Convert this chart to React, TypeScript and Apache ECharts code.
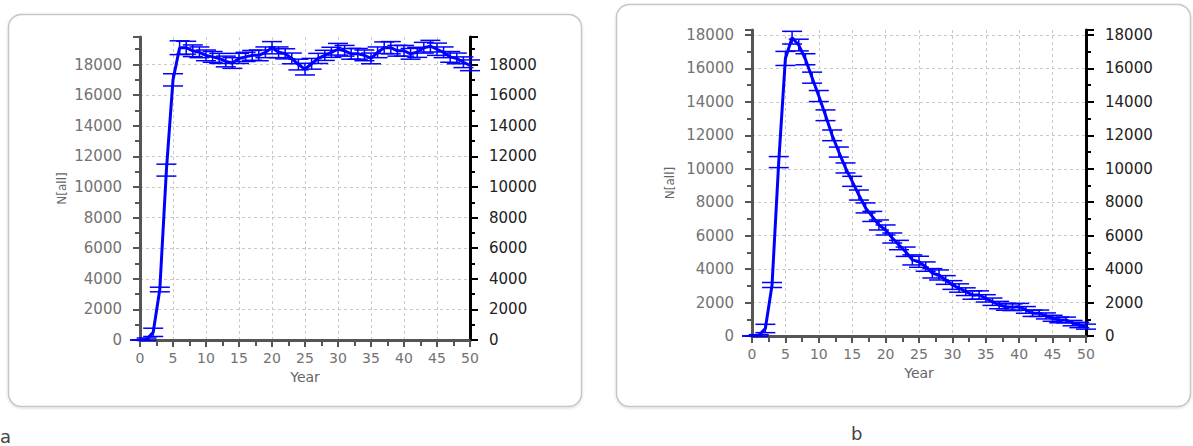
import React, { useEffect, useRef } from "react";
import * as echarts from "echarts";

const years = [0, 1, 2, 3, 4, 5, 6, 7, 8, 9, 10, 11, 12, 13, 14, 15, 16, 17, 18, 19, 20, 21, 22, 23, 24, 25, 26, 27, 28, 29, 30, 31, 32, 33, 34, 35, 36, 37, 38, 39, 40, 41, 42, 43, 44, 45, 46, 47, 48, 49, 50];

const popA = [0, 50, 500, 3300, 11100, 17000, 19100, 19100, 18900, 18800, 18600, 18500, 18400, 18200, 18100, 18400, 18500, 18600, 18600, 18800, 19100, 18800, 18700, 18400, 18000, 17700, 18050, 18400, 18600, 18800, 19000, 18900, 18700, 18700, 18600, 18400, 18800, 19100, 19100, 18900, 18900, 18700, 18800, 19100, 19200, 19000, 18800, 18500, 18400, 18150, 17950];
const errA = [0, 80, 270, 150, 390, 400, 450, 420, 380, 350, 350, 350, 330, 350, 350, 330, 300, 320, 350, 350, 400, 350, 330, 350, 350, 380, 350, 330, 330, 330, 380, 350, 350, 350, 350, 350, 350, 380, 400, 350, 350, 350, 330, 350, 380, 400, 350, 350, 350, 350, 350];

const popB = [0, 30, 450, 3050, 10400, 16600, 17840, 17400, 16550, 15450, 14350, 13200, 12000, 11000, 10050, 9250, 8430, 7660, 7150, 6640, 6340, 5860, 5440, 5040, 4550, 4440, 4150, 3750, 3650, 3350, 3050, 2870, 2650, 2450, 2450, 2250, 2050, 1850, 1750, 1720, 1750, 1560, 1360, 1360, 1200, 1060, 960, 960, 770, 660, 560];
const errB = [0, 50, 250, 150, 330, 420, 380, 350, 330, 330, 330, 320, 320, 300, 300, 300, 300, 300, 300, 300, 300, 300, 280, 280, 300, 330, 280, 280, 300, 260, 260, 250, 230, 250, 250, 220, 220, 220, 210, 200, 200, 200, 190, 190, 180, 180, 170, 170, 160, 160, 150];

const yMaxA = 19800;
const yMaxB = 18300;
const yInterval = 2000;
const xInterval = 5;
const panelLabels = ["a", "b"];
const yName = "N[all]";
const xName = "Year";

const FONT = "DejaVu Sans";
const BLUE = "#0000ff";

const plain = (v: number) => String(v);

const renderErr = (params: any, api: any) => {
  const x = api.value(0);
  const lo = api.coord([x, api.value(1)]);
  const hi = api.coord([x, api.value(2)]);
  const style = { stroke: BLUE, lineWidth: 1.5, fill: "none" };
  const hw = 10;
  return {
    type: "group",
    children: [
      { type: "line", shape: { x1: lo[0], y1: lo[1], x2: hi[0], y2: hi[1] }, style },
      { type: "line", shape: { x1: lo[0] - hw, y1: lo[1], x2: lo[0] + hw, y2: lo[1] }, style },
      { type: "line", shape: { x1: hi[0] - hw, y1: hi[1], x2: hi[0] + hw, y2: hi[1] }, style },
    ],
  };
};

const gridLine = { show: true, showMaxLine: false, lineStyle: { color: "#c9c9c9", type: [3, 3], width: 1 } };

const makeX = (gridIndex: number) => ({
  type: "value",
  gridIndex,
  min: 0,
  max: 50,
  interval: xInterval,
  name: xName,
  nameLocation: "middle",
  nameGap: 27,
  nameTextStyle: { color: "#666", fontSize: 14, fontFamily: FONT },
  axisLine: { show: true, onZero: false, lineStyle: { color: "#555", width: 3 } },
  axisTick: { show: true, inside: false, length: 7, lineStyle: { color: "#555", width: 2 } },
  minorTick: { show: true, splitNumber: 2, length: 6, lineStyle: { color: "#555", width: 2 } },
  axisLabel: { color: "#727272", fontSize: 14, margin: 11, fontFamily: FONT, formatter: plain },
  splitLine: { ...gridLine, showMaxLine: true },
});

const makeYLeft = (gridIndex: number, max: number, nameGap: number) => ({
  type: "value",
  gridIndex,
  position: "left",
  min: 0,
  max,
  interval: yInterval,
  name: yName,
  nameLocation: "middle",
  nameGap,
  nameRotate: 90,
  nameTextStyle: { color: "#666", fontSize: 12, fontFamily: FONT },
  axisLine: { show: true, onZero: false, lineStyle: { color: "#555", width: 3 } },
  axisTick: { show: true, inside: false, length: 7, lineStyle: { color: "#555", width: 2 } },
  minorTick: { show: true, splitNumber: 2, length: 5, lineStyle: { color: "#555", width: 2 } },
  axisLabel: { color: "#727272", fontSize: 15, margin: 18, showMaxLabel: false, fontFamily: FONT, formatter: plain },
  splitLine: gridLine,
});

const makeYRight = (gridIndex: number, max: number) => ({
  type: "value",
  gridIndex,
  position: "right",
  min: 0,
  max,
  interval: yInterval,
  axisLine: { show: true, onZero: false, lineStyle: { color: "#000", width: 3 } },
  axisTick: { show: true, inside: false, length: 8, lineStyle: { color: "#000", width: 2 } },
  minorTick: { show: true, splitNumber: 2, length: 5, lineStyle: { color: "#000", width: 2 } },
  axisLabel: { color: "#222", fontSize: 15, margin: 19, showMaxLabel: false, fontFamily: FONT, formatter: plain },
  splitLine: { show: false },
});

export default function App() {
  const ref = useRef<HTMLDivElement>(null);
  useEffect(() => {
    if (!ref.current) return;
    const chart = echarts.init(ref.current, null, { renderer: "svg" });
    const lineA = years.map((y, i) => [y, popA[i]]);
    const lineB = years.map((y, i) => [y, popB[i]]);
    const barsA = years.map((y, i) => [y, popA[i] - errA[i], popA[i] + errA[i]]);
    const barsB = years.map((y, i) => [y, popB[i] - errB[i], popB[i] + errB[i]]);
    chart.setOption({
      animation: false,
      backgroundColor: "#fff",
      textStyle: { fontFamily: FONT },
      grid: [
        { left: 140, right: 723, top: 37, bottom: 106 },
        { left: 752, right: 107, top: 30, bottom: 110 },
      ],
      xAxis: [makeX(0), makeX(1)],
      yAxis: [makeYLeft(0, yMaxA, 72), makeYRight(0, yMaxA), makeYLeft(1, yMaxB, 76), makeYRight(1, yMaxB)],
      graphic: [
        {
          type: "rect",
          z: -10,
          shape: { x: 8.5, y: 14.5, width: 573, height: 392, r: 13 },
          style: { fill: "#fff", stroke: "#c6c6c6", lineWidth: 1.5, shadowBlur: 3, shadowOffsetY: 1, shadowColor: "rgba(0,0,0,0.15)" },
        },
        {
          type: "rect",
          z: -10,
          shape: { x: 616.5, y: 4.5, width: 574, height: 402, r: 13 },
          style: { fill: "#fff", stroke: "#c6c6c6", lineWidth: 1.5, shadowBlur: 3, shadowOffsetY: 1, shadowColor: "rgba(0,0,0,0.15)" },
        },
        { type: "text", left: 0, top: 427, style: { text: panelLabels[0], fontSize: 18, fill: "#444", fontFamily: FONT } },
        { type: "text", left: 851, top: 424, style: { text: panelLabels[1], fontSize: 18, fill: "#444", fontFamily: FONT } },
      ],
      series: [
        {
          type: "line",
          xAxisIndex: 0,
          yAxisIndex: 0,
          data: lineA,
          showSymbol: false,
          lineStyle: { color: BLUE, width: 3 },
          z: 3,
        },
        {
          type: "custom",
          xAxisIndex: 0,
          yAxisIndex: 0,
          data: barsA,
          renderItem: renderErr,
          encode: { x: 0, y: [1, 2] },
          clip: false,
          z: 4,
        },
        {
          type: "line",
          xAxisIndex: 1,
          yAxisIndex: 2,
          data: lineB,
          showSymbol: false,
          lineStyle: { color: BLUE, width: 3 },
          z: 3,
        },
        {
          type: "custom",
          xAxisIndex: 1,
          yAxisIndex: 2,
          data: barsB,
          renderItem: renderErr,
          encode: { x: 0, y: [1, 2] },
          clip: false,
          z: 4,
        },
      ],
    });
    return () => chart.dispose();
  }, []);
  return <div ref={ref} style={{ position: "absolute", left: 0, top: 0, width: 1193, height: 446 }} />;
}
